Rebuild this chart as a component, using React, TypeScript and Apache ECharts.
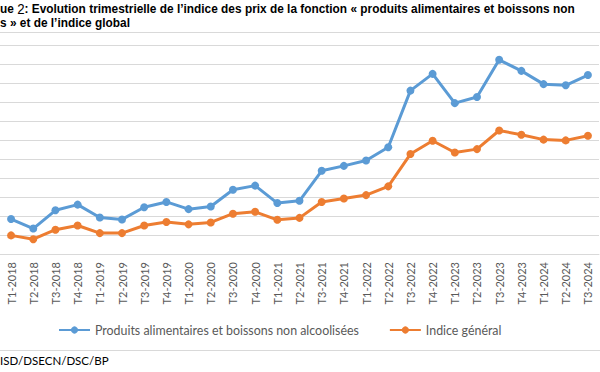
import React, { useEffect, useRef } from "react";
import * as echarts from "echarts";

const categories = [
  "T1-2018", "T2-2018", "T3-2018", "T4-2018",
  "T1-2019", "T2-2019", "T3-2019", "T4-2019",
  "T1-2020", "T2-2020", "T3-2020", "T4-2020",
  "T1-2021", "T2-2021", "T3-2021", "T4-2021",
  "T1-2022", "T2-2022", "T3-2022", "T4-2022",
  "T1-2023", "T2-2023", "T3-2023", "T4-2023",
  "T1-2024", "T2-2024", "T3-2024",
];

const alimentaires = [
  104.2, 101.7, 106.5, 108.0,
  104.6, 104.1, 107.3, 108.7,
  106.8, 107.5, 111.9, 113.0,
  108.4, 109.0, 116.9, 118.2,
  119.6, 123.1, 138.0, 142.4,
  134.7, 136.3, 146.1, 143.2,
  139.7, 139.4, 142.1,
];

const general = [
  99.9, 98.9, 101.4, 102.5,
  100.5, 100.5, 102.5, 103.4,
  102.8, 103.3, 105.6, 106.1,
  104.0, 104.5, 108.7, 109.6,
  110.5, 112.8, 121.3, 124.8,
  121.7, 122.6, 127.5, 126.4,
  125.1, 124.9, 126.1,
];

const seriesNames = [
  "Produits alimentaires et boissons non alcoolisées",
  "Indice général",
];

const titleLine1a = "ue ";
const titleLine1b = "2";
const titleLine1c = ": Evolution trimestrielle de l’indice des prix de la fonction « produits alimentaires et boissons non";
const titleLine2 = "s » et de l’indice global";
const sourceText = "ISD/DSECN/DSC/BP";

export default function App() {
  const ref = useRef<HTMLDivElement>(null);
  useEffect(() => {
    if (!ref.current) return;
    const chart = echarts.init(ref.current, null, { renderer: "svg" });
    const titleFont = "'Liberation Sans', Arial, sans-serif";
    const bodyFont = "Lato, 'Liberation Sans', sans-serif";
    chart.setOption({
      animation: false,
      backgroundColor: "#ffffff",
      grid: { left: -8, right: 1, top: 45, bottom: 118, containLabel: false },
      xAxis: {
        type: "category",
        data: categories,
        boundaryGap: true,
        axisLine: { show: true, lineStyle: { color: "#d9d9d9", width: 1 } },
        axisTick: { show: false },
        axisLabel: {
          rotate: 90,
          interval: 0,
          color: "#595959",
          fontSize: 11,
          fontFamily: bodyFont,
          margin: 8,
        },
      },
      yAxis: {
        type: "value",
        min: 95,
        max: 150,
        interval: 5,
        axisLabel: { show: false },
        axisLine: { show: false },
        axisTick: { show: false },
        splitLine: { lineStyle: { color: "#d9d9d9", width: 1 } },
      },
      legend: {
        data: seriesNames,
        left: 53,
        top: 319,
        itemWidth: 31,
        itemHeight: 9,
        itemGap: 30,
        textStyle: { color: "#595959", fontSize: 12.4, fontFamily: bodyFont },
      },
      series: [
        {
          name: seriesNames[0],
          type: "line",
          data: alimentaires,
          symbol: "circle",
          symbolSize: 8,
          lineStyle: { color: "#5B9BD5", width: 3 },
          itemStyle: { color: "#5B9BD5" },
        },
        {
          name: seriesNames[1],
          type: "line",
          data: general,
          symbol: "circle",
          symbolSize: 8,
          lineStyle: { color: "#ED7D31", width: 3 },
          itemStyle: { color: "#ED7D31" },
        },
      ],
      graphic: [
        {
          type: "text",
          x: 0,
          y: 9,
          scaleX: 0.95,
          style: {
            text: `{b|${titleLine1a}}{n|${titleLine1b}}{b|${titleLine1c}}`,
            verticalAlign: "middle",
            rich: {
              b: { fontFamily: titleFont, fontWeight: "bold", fontSize: 12.5, fill: "#000", lineHeight: 13 },
              n: { fontFamily: titleFont, fontSize: 14, fill: "#000", lineHeight: 13 },
            },
          },
        },
        {
          type: "text",
          x: 0,
          y: 23,
          scaleX: 0.95,
          style: {
            text: titleLine2,
            verticalAlign: "middle",
            fontFamily: titleFont,
            fontWeight: "bold",
            fontSize: 12.5,
            lineHeight: 13,
            fill: "#000",
          },
        },
        {
          type: "line",
          shape: { x1: 0, y1: 32.5, x2: 600, y2: 32.5 },
          style: { stroke: "#d9d9d9", lineWidth: 1 },
        },
        {
          type: "line",
          shape: { x1: 0, y1: 350.5, x2: 600, y2: 350.5 },
          style: { stroke: "#d9d9d9", lineWidth: 1 },
        },
        {
          type: "text",
          x: 0,
          y: 360,
          style: {
            text: sourceText,
            verticalAlign: "middle",
            fontFamily: bodyFont,
            fontSize: 11.5,
            fill: "#000",
          },
        },
      ],
    });
    return () => chart.dispose();
  }, []);
  return (
    <div
      ref={ref}
      style={{ position: "fixed", left: 0, top: 0, width: 600, height: 372 }}
    />
  );
}
